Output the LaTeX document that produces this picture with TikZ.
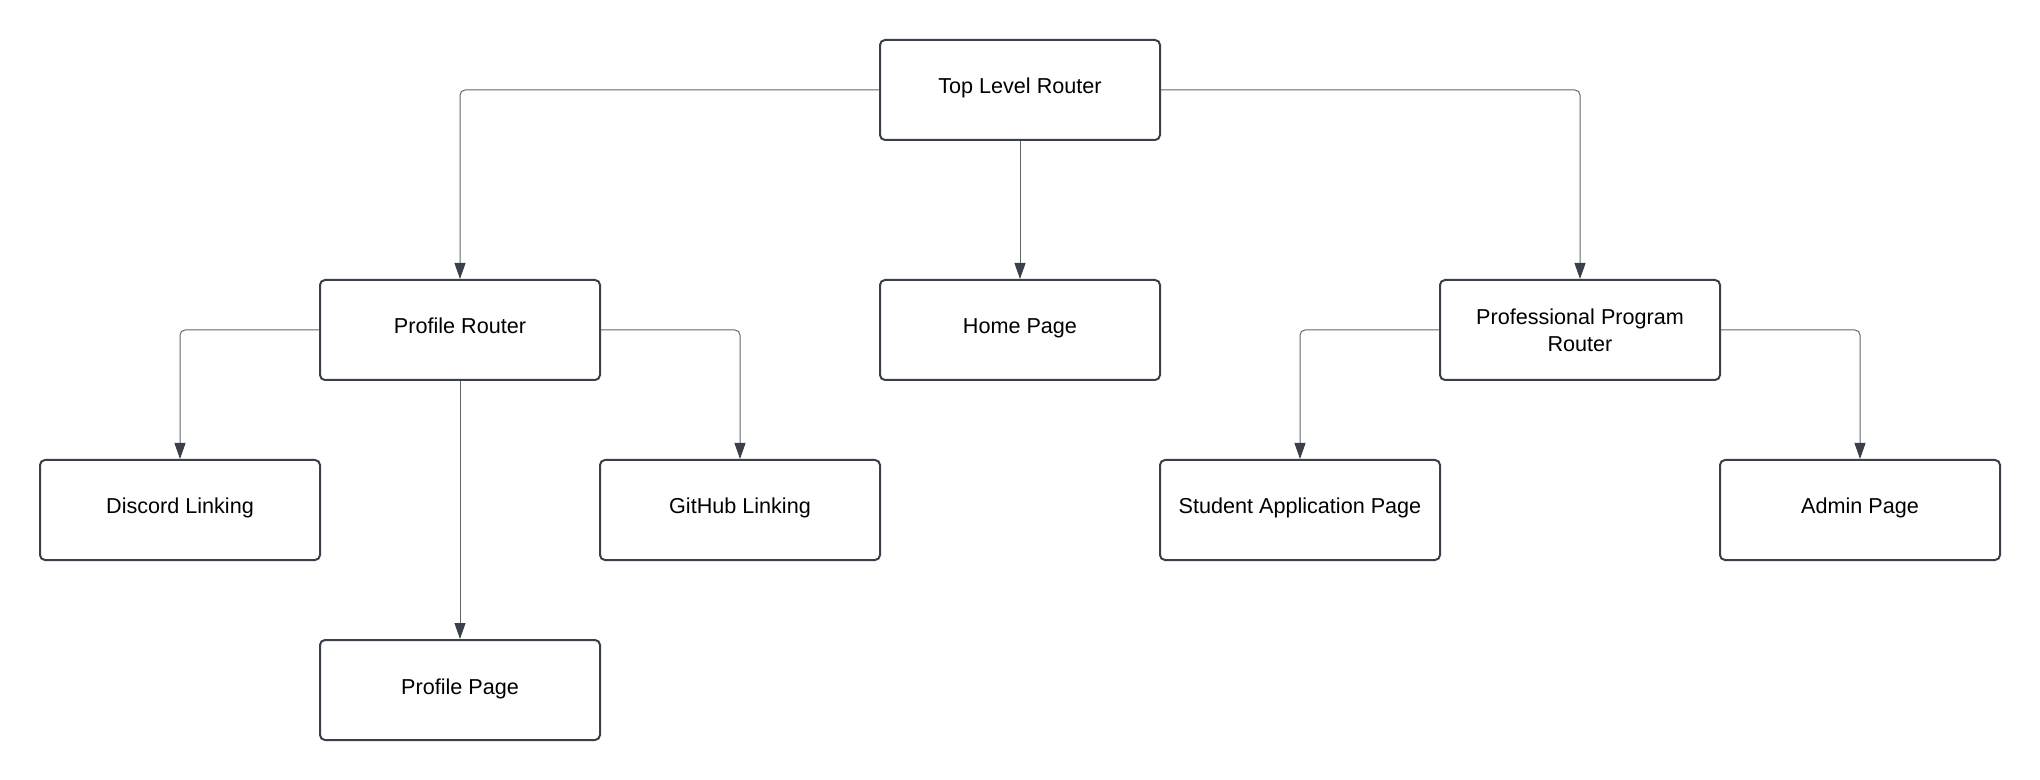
\documentclass[tikz,border=0pt]{standalone}
\usepackage{fontspec}
\setmainfont{Liberation Sans}
\usetikzlibrary{arrows.meta}
\definecolor{boxline}{HTML}{3A4049}
\definecolor{conline}{HTML}{62676D}
\tikzset{
  box/.style={draw=boxline, line width=1pt, rounded corners=2.5pt, fill=white,
    minimum width=140pt, minimum height=50pt, inner sep=0pt, align=center,
    text height=8pt, text depth=4pt,
    font=\fontsize{10.8}{13.4}\selectfont, text=black},
  twoline/.style={text height=, text depth=},
  conn/.style={draw=conline, line width=0.5pt, rounded corners=2.5pt,
    -{Triangle[length=8pt,width=5.5pt,color=boxline]}}
}
\begin{document}
\begin{tikzpicture}[x=0.5pt,y=-0.5pt]
\useasboundingbox (0,0) rectangle (2040,780);
\node[box] (top) at (1020,90) {Top Level Router};
\node[box] (prof) at (460,330) {Profile Router};
\node[box] (home) at (1020,330) {Home Page};
\node[box,twoline] (ppr) at (1580,330) {Professional Program\\Router};
\node[box] (discord) at (180,510) {Discord Linking};
\node[box] (github) at (740,510) {GitHub Linking};
\node[box] (ppage) at (460,690) {Profile Page};
\node[box] (student) at (1300,510) {Student Application Page};
\node[box] (admin) at (1860,510) {Admin Page};
\draw[conn] (top.west) -| (prof.north);
\draw[conn] (top.south) -- (home.north);
\draw[conn] (top.east) -| (ppr.north);
\draw[conn] (prof.west) -| (discord.north);
\draw[conn] (prof.south) -- (ppage.north);
\draw[conn] (prof.east) -| (github.north);
\draw[conn] (ppr.west) -| (student.north);
\draw[conn] (ppr.east) -| (admin.north);
\end{tikzpicture}
\end{document}
